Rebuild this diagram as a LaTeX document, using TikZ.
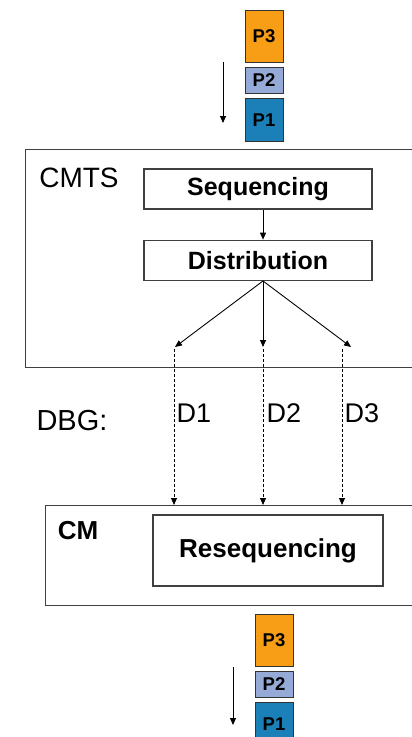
\documentclass[tikz,border=0pt]{standalone}
\usepackage{fontspec}
\setmainfont{Liberation Sans}
\usetikzlibrary{arrows.meta, positioning}
\definecolor{pktorange}{RGB}{247,157,22}
\definecolor{pktgrey}{RGB}{149,170,214}
\definecolor{pktblue}{RGB}{27,128,184}

\begin{document}
\begin{tikzpicture}[x=1pt, y=-1pt, >={Triangle[length=7pt, width=6pt]}, node distance=4pt,
  frame/.style={draw=black!75, line width=1.3pt, inner sep=0pt, anchor=north west},
  box/.style={draw=black!75, line width=1.3pt, minimum width=228pt, minimum height=40pt, font=\fontsize{25}{30}\selectfont\bfseries},
  lbl/.style={font=\fontsize{28}{32}\selectfont, inner sep=0pt},
  pkt/.style={draw=black!80, line width=1pt, minimum width=38pt, inner sep=0pt, font=\fontsize{18.5}{20}\selectfont\bfseries},
  link/.style={->, line width=0.9pt},
  dbg/.style={->, line width=0.9pt, dash pattern=on 3pt off 2pt}]
\clip (0,0) rectangle (412,737);
% incoming packets
\node[pkt, fill=pktorange, minimum height=52pt, anchor=north] (p3) at (264,10) {P3};
\node[pkt, fill=pktgrey, minimum height=26pt, below=of p3] (p2) {P2};
\node[pkt, fill=pktblue, minimum height=43pt, below=of p2] (p1) {P1};
\coordinate (in0) at (223,62); \coordinate (in1) at (223,123);
\draw[link] (in0) -- (in1);
% CMTS side
\node[frame, minimum width=410pt, minimum height=218pt] (cmts) at (25,149) {};
\node[lbl] (cmtsl) at (79,178) {CMTS};
\node[box] (seq) at (258,189) {Sequencing};
\node[box, below=30pt of seq] (dist) {Distribution};
\coordinate (f1) at (175,347); \coordinate (f2) at (263,347); \coordinate (f3) at (351,347);
\draw[link] (seq.south -| f2) -- (dist.north -| f2);
\foreach \f in {f1,f2,f3} \draw[link] (dist.south -| f2) -- (\f);
% bonding group
\node[lbl, font=\fontsize{29}{32}\selectfont] (dbgl) at (72,421) {DBG:};
\node[lbl, font=\fontsize{27}{32}\selectfont] (d1) at (194,413) {D1};
\node[lbl, font=\fontsize{27}{32}\selectfont] (d2) at (284,413) {D2};
\node[lbl, font=\fontsize{27}{32}\selectfont] (d3) at (362,413) {D3};
% CM side
\node[frame, minimum width=380pt, minimum height=100pt] (cm) at (45,505) {};
\node[font=\fontsize{26}{30}\selectfont\bfseries, inner sep=0pt] (cml) at (78,531) {CM};
\node[box, minimum width=230pt, minimum height=71pt, font=\fontsize{26}{30}\selectfont\bfseries] (reseq) at (268,550.5) {Resequencing};
\coordinate (t1) at (174,349); \coordinate (t2) at (263,349); \coordinate (t3) at (342,349);
\foreach \t in {t1,t2,t3} \draw[dbg] (\t) -- (\t |- cm.north);
% outgoing packets
\node[pkt, fill=pktorange, minimum height=52pt, anchor=north] (q3) at (274,614) {P3};
\node[pkt, fill=pktgrey, minimum height=26pt, below=of q3] (q2) {P2};
\node[pkt, fill=pktblue, minimum height=43pt, below=of q2] (q1) {P1};
\coordinate (out0) at (233,667); \coordinate (out1) at (233,725);
\draw[link] (out0) -- (out1);
\end{tikzpicture}
\end{document}
